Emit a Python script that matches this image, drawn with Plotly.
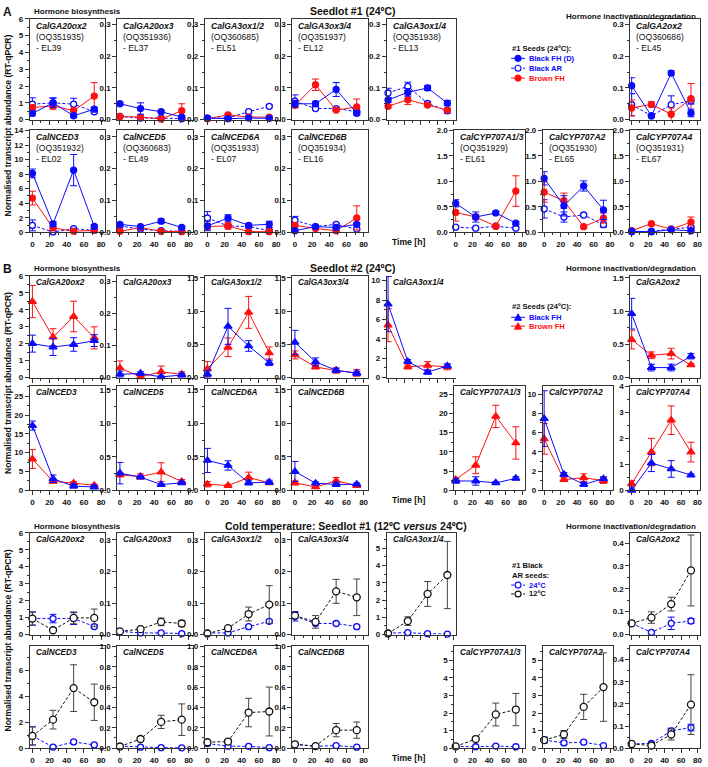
import plotly.graph_objects as go

W, H = 708, 767
FONT = "Liberation Sans"

# ---------------- data ----------------
TIME_H = [0, 24, 48, 72]
X_TICKS = [0, 20, 40, 60, 80]

GENES = ["CalGA20ox2", "CalGA20ox3", "CalGA3ox1/2", "CalGA3ox3/4", "CalGA3ox1/4", "CalGA2ox2",
         "CalNCED3", "CalNCED5", "CalNCED6A", "CalNCED6B", "CalCYP707A1/3", "CalCYP707A2", "CalCYP707A4"]
ACCESSIONS = ["OQ351935", "OQ351936", "OQ360685", "OQ351937", "OQ351938", "OQ360686",
              "OQ351932", "OQ360683", "OQ351933", "OQ351934", "OQ351929", "OQ351930", "OQ351931"]
EL_CODES = ["EL39", "EL37", "EL51", "EL12", "EL13", "EL45",
            "EL02", "EL49", "EL07", "EL16", "EL61", "EL65", "EL67"]

# Section A: Seedlot #1 (24ºC)
A_BLACK_FH_D = [[0.37, 1.0, 0.23, 0.62], [0.05, 0.035, 0.025, 0.008], [0.005, 0.003, 0.005, 0.004],
                [0.05, 0.05, 0.095, 0.02], [0.062, 0.086, 0.1, 0.052], [0.107, 0.012, 0.147, 0.021],
                [8.1, 1.15, 8.55, 0.8], [0.025, 0.018, 0.035, 0.015], [0.02, 0.045, 0.022, 0.025],
                [0.005, 0.018, 0.015, 0.025], [0.57, 0.3, 0.38, 0.18], [1.06, 0.52, 0.91, 0.44],
                [0.02, 0.01, 0.05, 0.03]]
A_BLACK_FH_D_ERR = [[0.1, 0.27, 0.08, 0.12], [0.004, 0.018, 0.003, 0.005], [0.002, 0.002, 0.002, 0.002],
                    [0.01, 0.008, 0.022, 0.005], [0.008, 0.012, 0.008, 0.008], [0.025, 0.004, 0.007, 0.012],
                    [0.6, 0.3, 2.15, 0.25], [0.004, 0.003, 0.007, 0.003], [0.015, 0.01, 0.005, 0.01],
                    [0.002, 0.003, 0.003, 0.005], [0.07, 0.1, 0.03, 0.03], [0.13, 0.2, 0.1, 0.19],
                    [0.01, 0.005, 0.005, 0.005]]
A_BLACK_AR = [[0.92, 1.0, 0.92, 0.47], [0.01, 0.005, 0.005, 0.003], [0.005, 0.005, 0.025, 0.042],
              [0.058, 0.035, 0.035, 0.025], [0.084, 0.105, 0.051, 0.028], [0.047, 0.012, 0.047, 0.059],
              [0.95, 0.05, 0.5, 0.25], [0.02, 0.01, 0.005, 0.003], [0.045, 0.02, 0.018, 0.005],
              [0.038, 0.018, 0.025, 0.01], [0.1, 0.08, 0.12, 0.08], [0.46, 0.3, 0.34, 0.15],
              [0.01, 0.02, 0.06, 0.1]]
A_BLACK_AR_ERR = [[0.38, 0.3, 0.35, 0.08], [0.003, 0.003, 0.002, 0.002], [0.002, 0.002, 0.003, 0.004],
                  [0.02, 0.004, 0.004, 0.004], [0.015, 0.013, 0.005, 0.008], [0.035, 0.004, 0.028, 0.01],
                  [0.75, 0.05, 0.1, 0.05], [0.003, 0.002, 0.002, 0.002], [0.02, 0.005, 0.003, 0.003],
                  [0.012, 0.003, 0.003, 0.003], [0.03, 0.02, 0.02, 0.02], [0.18, 0.1, 0.03, 0.05],
                  [0.005, 0.005, 0.01, 0.02]]
A_BROWN_FH = [[0.72, 0.82, 0.53, 1.4], [0.01, 0.008, 0.002, 0.028], [0.003, 0.015, 0.008, 0.008],
              [0.045, 0.11, 0.03, 0.04], [0.042, 0.063, 0.046, 0.03], [0.037, 0.048, 0.017, 0.066],
              [4.7, 0.6, 0.15, 0.25], [0.003, 0.015, 0.003, 0.002], [0.018, 0.02, 0.002, 0.002],
              [0.022, 0.012, 0.005, 0.045], [0.39, 0.3, 0.12, 0.81], [0.79, 0.62, 0.11, 0.28],
              [0.03, 0.17, 0.06, 0.2]]
A_BROWN_FH_ERR = [[0.15, 0.2, 0.15, 0.8], [0.002, 0.003, 0.002, 0.022], [0.002, 0.003, 0.002, 0.002],
                  [0.006, 0.018, 0.004, 0.025], [0.005, 0.015, 0.003, 0.003], [0.025, 0.008, 0.02, 0.048],
                  [0.95, 0.1, 0.05, 0.1], [0.002, 0.002, 0.002, 0.002], [0.01, 0.01, 0.002, 0.002],
                  [0.008, 0.003, 0.002, 0.038], [0.17, 0.05, 0.02, 0.3], [0.2, 0.15, 0.02, 0.1],
                  [0.01, 0.02, 0.01, 0.1]]

# Section B: Seedlot #2 (24ºC)
B_BLACK_FH = [[2.0, 1.8, 1.95, 2.18], [0.01, 0.013, 0.002, 0.008], [0.05, 0.77, 0.475, 0.22],
              [0.53, 0.235, 0.11, 0.065], [7.58, 1.65, 0.55, 1.2], [0.96, 0.15, 0.15, 0.32],
              [17.2, 3.05, 1.1, 0.85], [0.255, 0.195, 0.085, 0.11], [0.445, 0.37, 0.11, 0.12],
              [0.28, 0.105, 0.085, 0.09], [2.4, 2.4, 1.9, 3.1], [7.45, 1.65, 0.6, 1.2],
              [0.0, 1.05, 0.82, 0.58]]
B_BLACK_FH_ERR = [[0.5, 0.5, 0.4, 0.35], [0.01, 0.005, 0.003, 0.005], [0.05, 0.27, 0.08, 0.04],
                  [0.18, 0.06, 0.03, 0.03], [2.85, 0.2, 0.2, 0.2], [0.23, 0.05, 0.05, 0.04],
                  [1.2, 1.0, 0.5, 0.4], [0.16, 0.02, 0.01, 0.02], [0.18, 0.07, 0.03, 0.03],
                  [0.15, 0.02, 0.02, 0.02], [0.6, 1.1, 0.3, 0.4], [2.9, 0.2, 0.2, 0.2],
                  [0.05, 0.33, 0.32, 0.05]]
B_BROWN_FH = [[4.48, 2.38, 3.6, 2.34], [0.03, 0.002, 0.018, 0.01], [0.13, 0.455, 0.98, 0.37],
              [0.34, 0.16, 0.105, 0.07], [5.4, 1.1, 1.25, 1.1], [0.57, 0.335, 0.36, 0.19],
              [8.3, 2.35, 1.9, 1.3], [0.23, 0.205, 0.27, 0.13], [0.09, 0.07, 0.19, 0.11],
              [0.11, 0.05, 0.14, 0.07], [2.8, 6.5, 19.2, 12.3], [5.35, 1.1, 1.3, 1.0],
              [0.25, 1.47, 2.7, 1.47]]
B_BROWN_FH_ERR = [[0.95, 0.5, 0.9, 0.65], [0.022, 0.002, 0.018, 0.008], [0.11, 0.14, 0.24, 0.09],
                  [0.06, 0.03, 0.04, 0.05], [1.7, 0.2, 0.4, 0.3], [0.14, 0.05, 0.08, 0.02],
                  [2.5, 0.4, 0.4, 0.3], [0.03, 0.04, 0.14, 0.03], [0.04, 0.01, 0.08, 0.02],
                  [0.03, 0.01, 0.05, 0.01], [0.5, 2.2, 2.9, 4.2], [1.6, 0.2, 0.4, 0.3],
                  [0.12, 0.53, 0.55, 0.38]]

# Section C: Cold temperature, Seedlot #1 Black AR seeds
C_AR_24C = [[0.94, 0.94, 0.94, 0.47], [0.01, 0.005, 0.005, 0.003], [0.005, 0.005, 0.025, 0.042],
            [0.058, 0.035, 0.035, 0.025], [0.084, 0.105, 0.051, 0.028], [0.049, 0.009, 0.049, 0.059],
            [0.95, 0.08, 0.48, 0.25], [0.02, 0.01, 0.005, 0.003], [0.045, 0.02, 0.018, 0.005],
            [0.038, 0.018, 0.025, 0.01], [0.1, 0.08, 0.12, 0.08], [0.46, 0.3, 0.34, 0.15],
            [0.019, 0.022, 0.078, 0.093]]
C_AR_24C_ERR = [[0.38, 0.25, 0.35, 0.1], [0.003, 0.003, 0.002, 0.002], [0.002, 0.002, 0.003, 0.004],
                [0.015, 0.004, 0.004, 0.004], [0.015, 0.013, 0.005, 0.008], [0.005, 0.004, 0.027, 0.01],
                [0.7, 0.05, 0.1, 0.05], [0.003, 0.002, 0.002, 0.002], [0.02, 0.005, 0.003, 0.003],
                [0.012, 0.003, 0.003, 0.003], [0.03, 0.02, 0.02, 0.02], [0.18, 0.1, 0.03, 0.05],
                [0.003, 0.004, 0.012, 0.015]]
C_AR_12C = [[0.94, 0.25, 0.98, 0.98], [0.01, 0.017, 0.04, 0.035], [0.003, 0.02, 0.065, 0.095],
            [0.06, 0.04, 0.137, 0.118], [0.06, 0.78, 2.35, 3.45], [0.049, 0.074, 0.133, 0.28],
            [0.94, 2.2, 4.63, 3.54], [0.016, 0.09, 0.258, 0.28], [0.058, 0.065, 0.35, 0.36],
            [0.038, 0.02, 0.177, 0.177], [0.1, 0.52, 1.92, 2.2], [0.46, 0.78, 2.35, 3.48],
            [0.019, 0.012, 0.062, 0.197]]
C_AR_12C_ERR = [[0.4, 0.05, 0.35, 0.52], [0.002, 0.003, 0.012, 0.01], [0.002, 0.003, 0.022, 0.06],
                [0.01, 0.02, 0.038, 0.058], [0.05, 0.25, 0.72, 1.95], [0.005, 0.025, 0.03, 0.155],
                [0.7, 0.72, 1.8, 1.4], [0.005, 0.02, 0.065, 0.155], [0.01, 0.02, 0.14, 0.24],
                [0.005, 0.005, 0.065, 0.08], [0.05, 0.1, 0.65, 0.92], [0.15, 0.22, 0.72, 1.95],
                [0.004, 0.003, 0.025, 0.135]]

# y-axis tick specs (max, major step, minor step, format) per gene
A_YTICKS = [(6, 1, 0.5, "d"), (0.318, 0.1, 0.05, ".1f"), (0.318, 0.1, 0.05, ".1f"), (0.318, 0.1, 0.05, ".1f"),
            (0.318, 0.1, 0.05, ".1f"), (0.318, 0.1, 0.05, ".1f"), (14, 2, 1, "d"), (0.32, 0.1, 0.05, ".1f"),
            (0.32, 0.1, 0.05, ".1f"), (0.32, 0.1, 0.05, ".1f"), (2, 0.5, 0.25, ".1f"), (2, 0.5, 0.25, ".1f"),
            (2, 0.5, 0.25, ".1f")]
B_YTICKS = [(6, 1, 0.5, "d"), (0.318, 0.1, 0.05, ".1f"), (1.53, 0.5, 0.25, ".1f"), (1.53, 0.5, 0.25, ".1f"),
            (10.5, 2, 1, "d"), (1.53, 0.5, 0.25, ".1f"), (27.6, 5, 2.5, "d"), (1.55, 0.5, 0.25, ".1f"),
            (1.55, 0.5, 0.25, ".1f"), (1.55, 0.5, 0.25, ".1f"), (27, 5, 2.5, "d"), (10.8, 2, 1, "d"),
            (4, 1, 0.5, "d")]
C_YTICKS = [(6, 1, 0.5, "d"), (0.323, 0.1, 0.05, ".1f"), (0.323, 0.1, 0.05, ".1f"), (0.323, 0.1, 0.05, ".1f"),
            (5.9, 1, 0.5, "d"), (0.445, 0.1, 0.05, ".1f"), (7.85, 2, 1, "d"), (1.0, 0.2, 0.1, ".1f"),
            (1.0, 0.2, 0.1, ".1f"), (1.0, 0.2, 0.1, ".1f"), (5.8, 1, 0.5, "d"), (5.8, 1, 0.5, "d"),
            (0.46, 0.1, 0.05, ".1f")]

# ---------------- layout geometry (pixels) ----------------
PANEL_X = [(29, 105), (117, 193), (205, 281), (293, 369), (388, 458), (633, 703),
           (29, 105), (117, 193), (205, 281), (293, 369), (456, 527), (545, 615), (633, 703)]
PANEL_ROW = [0] * 6 + [1] * 7
ROWS = {"A": [(15, 117), (128, 231)], "B": [(275, 378), (387, 492)], "C": [(535, 638), (650, 753)]}
OPEN_PANELS = {("B", 4)}  # panels drawn without a surrounding box

BLUE = "#0b0bff"
RED = "#ff1010"
BLACK = "#111111"
FRAME = "#333333"


def px(x):
    return x / W


def py(y):
    return 1 - y / H


def sfx(k):
    return "" if k == 1 else str(k)


fig = go.Figure()
layout = {}
annotations = []
shapes = []


def add_series(k, y, err, color, symbol, filled, dash, size=6, errcolor=None):
    fig.add_trace(go.Scatter(
        x=TIME_H, y=y, xaxis=f"x{sfx(k)}", yaxis=f"y{sfx(k)}", mode="lines+markers",
        line=dict(color=color, width=1, dash=dash),
        marker=dict(symbol=symbol, size=size, color=color if filled else "white",
                    line=dict(color=color, width=1.3)),
        error_y=dict(type="data", array=err, visible=True, color=errcolor or color,
                     thickness=1, width=3.5),
        cliponaxis=False, showlegend=False, hoverinfo="skip"))


def make_panel(k, gi, section, ytick, title_html, title_size):
    x0, x1 = PANEL_X[gi]
    row = PANEL_ROW[gi]
    yt, yb = ROWS[section][row]
    narrow = (x1 - x0) < 74
    xr = [-1.5, 83] if narrow else [-3, 85]
    ymax, dt, mdt, fmt = ytick
    boxed = (section, gi) not in OPEN_PANELS
    s = sfx(k)
    layout[f"xaxis{s}"] = dict(
        domain=[px(x0), px(x1)], anchor=f"y{s}", range=xr, tickvals=X_TICKS,
        ticks="outside", ticklen=4, tickwidth=1, tickcolor=FRAME,
        showticklabels=(row == 1), showgrid=False, zeroline=False,
        showline=True, mirror=boxed, linecolor=FRAME, linewidth=1,
        tickfont=dict(family=FONT, size=8, color="#111", weight="bold"),
        minor=dict(dtick=10, tick0=0, ticklen=2, ticks="outside", tickcolor=FRAME, showgrid=False))
    layout[f"yaxis{s}"] = dict(
        domain=[py(yb), py(yt)], anchor=f"x{s}", range=[0, ymax], dtick=dt, tick0=0,
        tickformat=fmt, ticks="outside", ticklen=4, tickwidth=1, tickcolor=FRAME,
        showgrid=False, zeroline=False, showline=True, mirror=boxed, linecolor=FRAME, linewidth=1,
        tickfont=dict(family=FONT, size=8, color="#111", weight="bold"),
        minor=dict(dtick=mdt, tick0=0, ticklen=2, ticks="outside", tickcolor=FRAME, showgrid=False))
    annotations.append(dict(
        text=title_html, xref=f"x{s} domain", yref=f"y{s} domain", x=0, y=1,
        xanchor="left", yanchor="top", xshift=5, yshift=-1, align="left", showarrow=False,
        borderpad=0, font=dict(family=FONT, size=title_size, color="#111")))


k = 0
# Section A
for gi, gene in enumerate(GENES):
    k += 1
    title = f"<b><i>{gene}</i></b><br>({ACCESSIONS[gi]})<br>- {EL_CODES[gi]}"
    make_panel(k, gi, "A", A_YTICKS[gi], title, 8.6)
    add_series(k, A_BLACK_AR[gi], A_BLACK_AR_ERR[gi], BLUE, "circle", False, "3px,2px")
    add_series(k, A_BROWN_FH[gi], A_BROWN_FH_ERR[gi], RED, "circle", True, "solid")
    add_series(k, A_BLACK_FH_D[gi], A_BLACK_FH_D_ERR[gi], BLUE, "circle", True, "solid")
# Section B
for gi, gene in enumerate(GENES):
    k += 1
    make_panel(k, gi, "B", B_YTICKS[gi], f"<b><i>{gene}</i></b>", 8.2)
    add_series(k, B_BROWN_FH[gi], B_BROWN_FH_ERR[gi], RED, "triangle-up", True, "solid", size=7)
    add_series(k, B_BLACK_FH[gi], B_BLACK_FH_ERR[gi], BLUE, "triangle-up", True, "solid", size=7)
# Section C
for gi, gene in enumerate(GENES):
    k += 1
    make_panel(k, gi, "C", C_YTICKS[gi], f"<b><i>{gene}</i></b>", 8.2)
    add_series(k, C_AR_24C[gi], C_AR_24C_ERR[gi], BLUE, "circle", False, "3px,2px")
    add_series(k, C_AR_12C[gi], C_AR_12C_ERR[gi], BLACK, "circle", False, "3px,2px",
               size=7, errcolor="#444444")


def text(x, y, s, size=8, anchor="left", color="#111", angle=0):
    annotations.append(dict(text=s, xref="paper", yref="paper", x=px(x), y=py(y),
                            xanchor=anchor, yanchor="middle", showarrow=False, textangle=angle,
                            borderpad=0, font=dict(family=FONT, size=size, color=color)))


# section headings
for sec, ytop, letter in [("A", 7, "A"), ("B", 267, "B"), ("C", 528, None)]:
    if letter:
        text(1, ytop + 1, f"<b>{letter}</b>", size=12)
    text(32, ytop + 1, "<b>Hormone biosynthesis</b>", size=8)
    text(567, ytop + (6 if sec == "A" else 1), "<b>Hormone inactivation/degradation</b>", size=8)
    r = ROWS[sec]
    text(7, (r[0][0] + r[1][1]) / 2, "<b>Normalised transcript abundance (RT-qPCR)</b>", size=8.6,
         anchor="center", angle=-90)
    text(410, r[1][1] + 10, "<b>Time [h]</b>", size=8.6, anchor="center")

text(354, 7, "<b>Seedlot #1 (24ºC)</b>", size=10.5, anchor="center")
text(354, 267, "<b>Seedlot #2 (24ºC)</b>", size=10.5, anchor="center")
text(347, 528, "<b>Cold temperature: Seedlot #1 (12ºC <i>versus</i> 24ºC)</b>", size=10.5, anchor="center")


def legend_sample(x, y, color, kind, filled, dash):
    shapes.append(dict(type="line", xref="paper", yref="paper", x0=px(x), x1=px(x + 14),
                       y0=py(y), y1=py(y), line=dict(color=color, width=1, dash=dash)))
    cx = x + 7
    if kind == "circle":
        shapes.append(dict(type="circle", xref="paper", yref="paper", x0=px(cx - 3), x1=px(cx + 3),
                           y0=py(y + 3), y1=py(y - 3), fillcolor=color if filled else "white",
                           line=dict(color=color, width=1.2)))
    else:
        path = (f"M {px(cx - 3.5)} {py(y + 3)} L {px(cx + 3.5)} {py(y + 3)} "
                f"L {px(cx)} {py(y - 3.5)} Z")
        shapes.append(dict(type="path", xref="paper", yref="paper", path=path,
                           fillcolor=color, line=dict(color=color, width=1)))


# legend A
text(513, 45, "<b>#1 Seeds (24ºC):</b>", size=7.6)
for yy, col, filled, dash, lab in [(55, BLUE, True, "solid", "Black FH (D)"),
                                   (65, BLUE, False, "dot", "Black AR"),
                                   (75, RED, True, "solid", "Brown FH")]:
    legend_sample(513, yy, col, "circle", filled, dash)
    text(530, yy, f"<b>{lab}</b>", size=7.6, color=col)
# legend B
text(513, 306, "<b>#2 Seeds (24ºC):</b>", size=7.6)
for yy, col, lab in [(317, BLUE, "Black FH"), (326, RED, "Brown FH")]:
    legend_sample(513, yy, col, "triangle", True, "solid")
    text(530, yy, f"<b>{lab}</b>", size=7.6, color=col)
# legend C
text(513, 568, "<b>#1 Black</b>", size=7.6)
text(513, 578, "<b>AR seeds:</b>", size=7.6)
for yy, col, lab in [(588, BLUE, "24ºC"), (597, BLACK, "12ºC")]:
    legend_sample(513, yy, col, "circle", False, "dot")
    text(530, yy, f"<b>{lab}</b>", size=7.6, color=col)

fig.update_layout(
    width=W, height=H, margin=dict(l=0, r=0, t=0, b=0),
    paper_bgcolor="white", plot_bgcolor="white", showlegend=False,
    font=dict(family=FONT, size=8, color="#111"),
    annotations=annotations, shapes=shapes, **layout)

fig.write_html("out.html", config={"displayModeBar": False},
               post_script="document.body.style.margin='0';document.body.style.padding='0';")
